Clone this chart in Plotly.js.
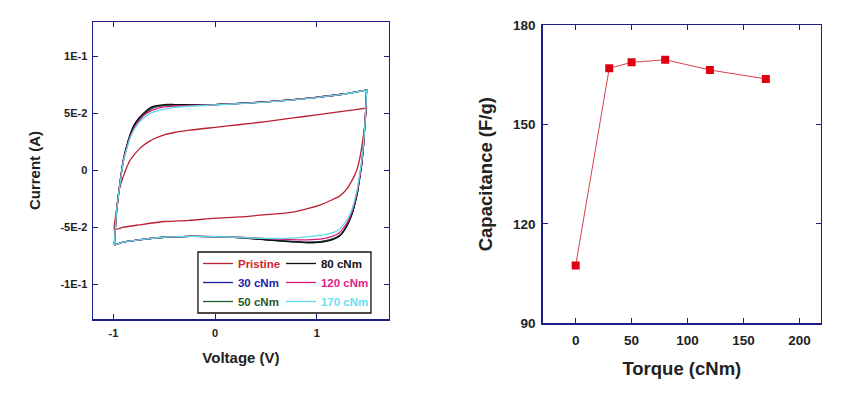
<!DOCTYPE html>
<html>
<head>
<meta charset="utf-8">
<script src="https://cdn.plot.ly/plotly-3.0.1.min.js"></script>
<style>html,body{margin:0;padding:0;background:#fff;}#chart{width:841px;height:400px;}</style>
</head>
<body>
<div id="chart"></div>
<script>
// ---------- CV curves (left panel) ----------
// voltage samples of the anodic (upper) branch and cathodic (lower) branch
const vUp   = [-0.99, -0.97, -0.95, -0.93, -0.90, -0.87, -0.84, -0.80, -0.75, -0.70, -0.65, -0.60, -0.50, -0.40, -0.25, 0.00, 0.25, 0.50, 0.75, 1.00, 1.25, 1.49];
const vDown = [1.49, 1.48, 1.46, 1.44, 1.42, 1.40, 1.37, 1.34, 1.30, 1.26, 1.22, 1.15, 1.05, 0.90, 0.75, 0.50, 0.25, 0.00, -0.25, -0.50, -0.75, -0.90, -0.99];

const pristineUp   = [-0.052, -0.036, -0.021, -0.013, -0.005, 0.002, 0.008, 0.013, 0.018, 0.022, 0.025, 0.0275, 0.031, 0.033, 0.035, 0.0375, 0.040, 0.0425, 0.0455, 0.0485, 0.0515, 0.0544];
const pristineDown = [0.0544, 0.046, 0.031, 0.019, 0.009, 0.002, -0.005, -0.010, -0.016, -0.020, -0.023, -0.026, -0.030, -0.034, -0.037, -0.039, -0.041, -0.042, -0.044, -0.045, -0.048, -0.050, -0.052];

const nm30Up   = [-0.065, -0.038, -0.022, -0.008, 0.009, 0.020, 0.029, 0.038, 0.0445, 0.049, 0.0525, 0.0550, 0.0567, 0.0572, 0.0572, 0.0575, 0.0585, 0.0598, 0.0615, 0.0638, 0.0665, 0.0702];
const nm30Down = [0.0702, 0.050, 0.022, 0.004, -0.008, -0.019, -0.031, -0.040, -0.048, -0.054, -0.0575, -0.0605, -0.0625, -0.0630, -0.0624, -0.0608, -0.0590, -0.0582, -0.0580, -0.0588, -0.0610, -0.0630, -0.0655];

const nm50Up   = [-0.065, -0.038, -0.022, -0.008, 0.009, 0.020, 0.029, 0.038, 0.0445, 0.049, 0.0528, 0.0552, 0.0568, 0.0572, 0.0572, 0.0575, 0.0585, 0.0598, 0.0615, 0.0638, 0.0665, 0.0702];
const nm50Down = [0.0702, 0.050, 0.022, 0.004, -0.008, -0.019, -0.031, -0.040, -0.048, -0.0538, -0.0575, -0.0605, -0.0626, -0.0632, -0.0626, -0.0610, -0.0591, -0.0582, -0.0580, -0.0588, -0.0610, -0.0630, -0.0655];

const nm80Up   = [-0.065, -0.038, -0.022, -0.008, 0.010, 0.021, 0.030, 0.039, 0.0455, 0.050, 0.054, 0.0560, 0.0575, 0.0575, 0.0573, 0.0575, 0.0585, 0.0598, 0.0615, 0.0638, 0.0665, 0.0704];
const nm80Down = [0.0704, 0.050, 0.022, 0.004, -0.008, -0.020, -0.031, -0.040, -0.048, -0.054, -0.058, -0.061, -0.0630, -0.0636, -0.0628, -0.0610, -0.0592, -0.0582, -0.0580, -0.0588, -0.0610, -0.0630, -0.0655];

const nm120Up   = [-0.065, -0.038, -0.022, -0.008, 0.009, 0.019, 0.028, 0.036, 0.043, 0.048, 0.051, 0.053, 0.0555, 0.0562, 0.0567, 0.0574, 0.0585, 0.0598, 0.0615, 0.0638, 0.0665, 0.0702];
const nm120Down = [0.0702, 0.050, 0.023, 0.005, -0.007, -0.018, -0.029, -0.038, -0.046, -0.051, -0.055, -0.058, -0.0602, -0.0610, -0.0608, -0.0600, -0.0588, -0.0582, -0.0580, -0.0588, -0.0610, -0.0630, -0.0655];

const nm170Up   = [-0.065, -0.038, -0.022, -0.009, 0.008, 0.018, 0.027, 0.035, 0.0415, 0.046, 0.049, 0.051, 0.0535, 0.0550, 0.0560, 0.0572, 0.0583, 0.0596, 0.0613, 0.0636, 0.0663, 0.0700];
const nm170Down = [0.0700, 0.050, 0.024, 0.007, -0.005, -0.016, -0.027, -0.036, -0.043, -0.048, -0.052, -0.055, -0.057, -0.0585, -0.0595, -0.0598, -0.0590, -0.0582, -0.0580, -0.0588, -0.0610, -0.0630, -0.0655];

const cvNames  = ['Pristine', '30 cNm', '50 cNm', '80 cNm', '120 cNm', '170 cNm'];
const cvUp     = [pristineUp, nm30Up, nm50Up, nm80Up, nm120Up, nm170Up];
const cvDown   = [pristineDown, nm30Down, nm50Down, nm80Down, nm120Down, nm170Down];

// ---------- Capacitance vs torque (right panel) ----------
const torque      = [0, 30, 50, 80, 120, 170];
const capacitance = [107.4, 167.0, 168.8, 169.6, 166.5, 163.8];

// tick labels
const cvVoltTicks  = [-1, 0, 1];
const cvCurrTicks  = [-0.1, -0.05, 0, 0.05, 0.1];
const cvCurrLabels = ['-1E-1', '-5E-2', '0', '5E-2', '1E-1'];
const torqueTicks  = [0, 50, 100, 150, 200];
const capTicks     = [90, 120, 150, 180];

// ---------- styling ----------
const lineColors = ['#b8212f', '#1c1c9c', '#1f5a2e', '#111111', '#d81b7a', '#5fd8e8'];
const textColors = ['#d41e2a', '#1c1ca8', '#1f5a2e', '#111111', '#e0208a', '#66e0f0'];
const legendOf   = ['legend', 'legend', 'legend', 'legend2', 'legend2', 'legend2'];
const NAVY = '#1c1c8a';
const FONT = 'Liberation Sans, Arial, sans-serif';

const traces = cvNames.map((n, k) => ({
  type: 'scatter', mode: 'lines',
  x: vUp.concat(vDown), y: cvUp[k].concat(cvDown[k]),
  name: '<span style="color:' + textColors[k] + '">' + n + '</span>',
  line: {color: lineColors[k], width: 1.3, shape: 'spline', smoothing: 0.6},
  legend: legendOf[k], xaxis: 'x', yaxis: 'y'
}));

traces.push({
  type: 'scatter', mode: 'lines+markers',
  x: torque, y: capacitance,
  line: {color: '#d6404e', width: 1},
  marker: {symbol: 'square', size: 8, color: '#dd0010'},
  showlegend: false, xaxis: 'x2', yaxis: 'y2'
});

const tickFont = (s) => ({family: FONT, size: s, color: '#222', weight: 'bold'});
const axBase = {
  showgrid: false, zeroline: false, showline: true, linecolor: NAVY, linewidth: 1.5,
  mirror: 'ticks', ticks: 'inside', ticklen: 5, tickwidth: 1, tickcolor: NAVY
};

const layout = {
  width: 841, height: 400,
  margin: {l: 0, r: 0, t: 0, b: 0},
  paper_bgcolor: '#fff', plot_bgcolor: '#fff',
  xaxis: Object.assign({}, axBase, {
    domain: [0.1106, 0.4625], range: [-1.2, 1.71], anchor: 'y',
    tickmode: 'array', tickvals: cvVoltTicks, ticktext: cvVoltTicks.map(String),
    tickfont: tickFont(11), ticklabelstandoff: 3,
    title: {text: 'Voltage (V)', font: {family: FONT, size: 15, color: '#222', weight: 'bold'}, standoff: 15}
  }),
  yaxis: Object.assign({}, axBase, {
    domain: [0.2025, 0.945], range: [-0.1304, 0.1298], anchor: 'x',
    tickmode: 'array', tickvals: cvCurrTicks, ticktext: cvCurrLabels,
    tickfont: tickFont(11), ticklabelstandoff: 2,
    title: {text: 'Current (A)', font: {family: FONT, size: 15, color: '#222', weight: 'bold'}, standoff: 16}
  }),
  xaxis2: Object.assign({}, axBase, {
    domain: [0.6453, 0.9762], range: [-29.5, 219.3], anchor: 'y2',
    tickmode: 'array', tickvals: torqueTicks, ticktext: torqueTicks.map(String),
    tickfont: tickFont(13.5), ticklabelstandoff: 4,
    title: {text: 'Torque (cNm)', font: {family: FONT, size: 18.5, color: '#222', weight: 'bold'}, standoff: 15}
  }),
  yaxis2: Object.assign({}, axBase, {
    domain: [0.1925, 0.9367], range: [90, 180], anchor: 'x2',
    tickmode: 'array', tickvals: capTicks, ticktext: capTicks.map(String),
    tickfont: tickFont(13.5), ticklabelstandoff: 3,
    title: {text: 'Capacitance (F/g)', font: {family: FONT, size: 18.5, color: '#222', weight: 'bold'}, standoff: 15}
  }),
  legend: {
    x: 0.2354, y: 0.3775, xanchor: 'left', yanchor: 'top', xref: 'paper', yref: 'paper',
    bgcolor: 'rgba(0,0,0,0)', borderwidth: 0, tracegroupgap: 0,
    font: {family: FONT, size: 11.5, weight: 'bold'}
  },
  legend2: {
    x: 0.3341, y: 0.3775, xanchor: 'left', yanchor: 'top', xref: 'paper', yref: 'paper',
    bgcolor: 'rgba(0,0,0,0)', borderwidth: 0, tracegroupgap: 0,
    font: {family: FONT, size: 11.5, weight: 'bold'}
  },
  shapes: [{
    type: 'rect', xref: 'paper', yref: 'paper',
    x0: 0.2354, x1: 0.4411, y0: 0.2175, y1: 0.37,
    line: {color: '#111', width: 1.3}, fillcolor: 'rgba(0,0,0,0)'
  }],
  showlegend: true
};

Plotly.newPlot('chart', traces, layout, {displayModeBar: false, staticPlot: true});
</script>
</body>
</html>
